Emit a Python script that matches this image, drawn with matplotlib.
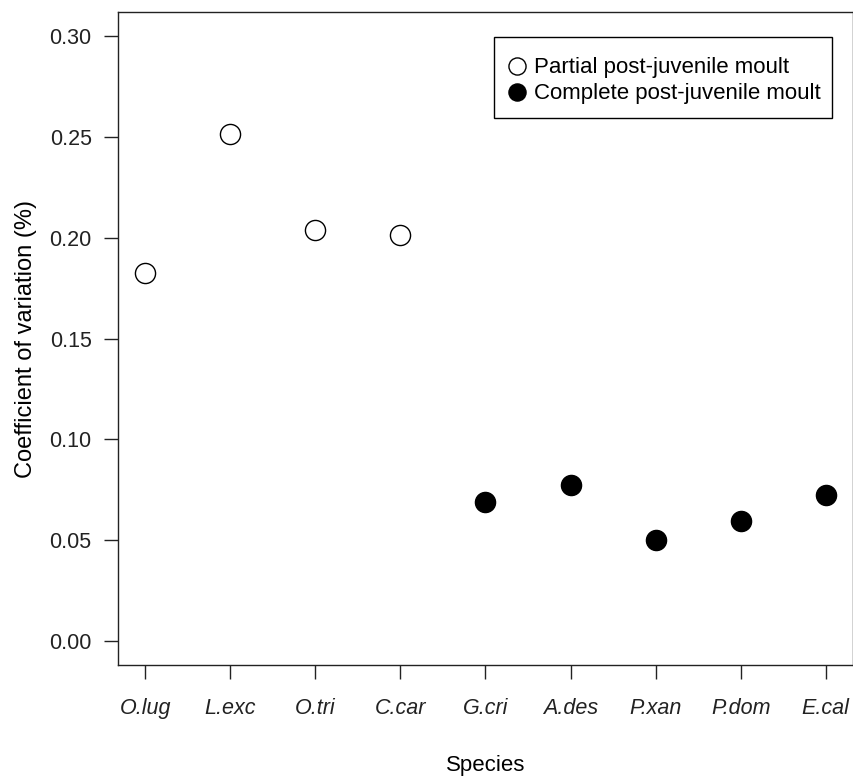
import matplotlib.pyplot as plt
from matplotlib.patches import Rectangle

plt.rcParams['font.family'] = ['Liberation Sans', 'DejaVu Sans']

# Coefficient of variation per species
species = ['O.lug', 'L.exc', 'O.tri', 'C.car', 'G.cri', 'A.des', 'P.xan', 'P.dom', 'E.cal']
partial_cv = [0.1826, 0.2513, 0.2038, 0.2015]
complete_cv = [0.0687, 0.0772, 0.0500, 0.0595, 0.0726]

x_partial = list(range(1, len(partial_cv) + 1))
x_complete = list(range(len(partial_cv) + 1, len(species) + 1))

fig = plt.figure(figsize=(8.54, 7.76), dpi=100)
ax = fig.add_axes([0.1382, 0.143, 0.8606, 0.8415])

ax.plot(x_partial, partial_cv, 'o', ms=14.5, mfc='white', mec='black', mew=1.0,
        label='Partial post-juvenile moult', linestyle='none')
ax.plot(x_complete, complete_cv, 'o', ms=14.5, mfc='black', mec='black', mew=1.0,
        label='Complete post-juvenile moult', linestyle='none')

ax.set_xlim(0.68, 9.32)
ax.set_ylim(-0.012, 0.312)
ax.set_xticks(range(1, len(species) + 1))
ax.set_xticklabels(species, fontstyle='italic', fontsize=15.5)
ax.set_yticks([0.0, 0.05, 0.10, 0.15, 0.20, 0.25, 0.30])
ax.set_yticklabels(['0.00', '0.05', '0.10', '0.15', '0.20', '0.25', '0.30'], fontsize=15.5)
ax.tick_params(direction='out', length=10, width=1, colors='#222222')
ax.tick_params(axis='x', pad=14)
ax.tick_params(axis='y', pad=9)
for s in ax.spines.values():
    s.set_linewidth(1.0)
    s.set_color('#222222')

ax.set_xlabel('Species', fontsize=16, labelpad=26)
ax.set_ylabel('Coefficient of variation (%)', fontsize=17, labelpad=9)

# legend box drawn separately (R-style padding is taller than wide)
ax.add_patch(Rectangle((0.5116, 0.8377), 0.4598, 0.124, transform=ax.transAxes,
                       fill=False, edgecolor='black', linewidth=1.0, zorder=5))
leg = ax.legend(loc='center', bbox_to_anchor=(0.7415, 0.8945), fontsize=16,
                frameon=False, handletextpad=0.25, borderpad=0.0, labelspacing=0.22,
                handlelength=1.0, markerscale=0.85, borderaxespad=0)

fig.savefig('out.png', dpi=100)
